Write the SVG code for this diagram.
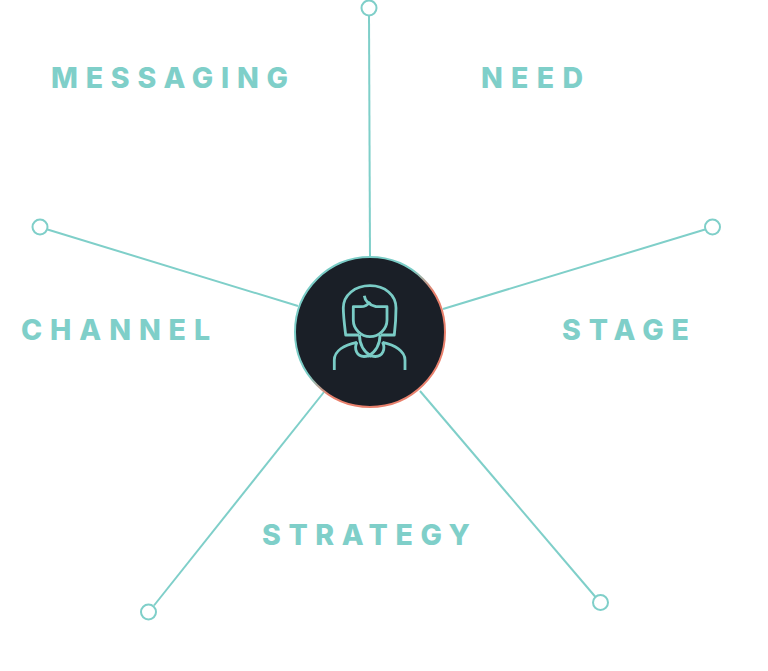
<svg xmlns="http://www.w3.org/2000/svg" width="768" height="671" viewBox="0 0 768 671">
<style>
.c{fill:none;stroke:#7fcfc9;stroke-width:2}
.e{fill:#fff;stroke:#7fcfc9;stroke-width:2}
.i{fill:none;stroke:#7accc6;stroke-width:2.800;stroke-linecap:butt;stroke-linejoin:round}
.t{font-family:"Inter","Liberation Sans",sans-serif;font-weight:800;font-size:28.500px;fill:#7fcfc9}
</style>
<defs>
<linearGradient id="g" x1="0.2" y1="0.2" x2="0.8" y2="0.8">
<stop offset="0.4" stop-color="#7accc6"/>
<stop offset="0.62" stop-color="#e8806c"/>
</linearGradient>
</defs>
<rect width="768" height="671" fill="#fff"/>
<g id="connectors">
<line class="c" x1="369" y1="16" x2="370" y2="258"/>
<line class="c" x1="47.500" y1="229.500" x2="298" y2="306"/>
<line class="c" x1="705" y1="229.500" x2="443" y2="309"/>
<line class="c" x1="154" y1="605.500" x2="324" y2="392"/>
<line class="c" x1="595.500" y1="597" x2="420" y2="391"/>
</g>
<g id="end-top"><circle class="e" cx="369" cy="8" r="7.500"/></g>
<g id="end-left"><circle class="e" cx="40" cy="227" r="7.500"/></g>
<g id="end-right"><circle class="e" cx="712.500" cy="227" r="7.500"/></g>
<g id="end-bottom-left"><circle class="e" cx="148.500" cy="612" r="7.500"/></g>
<g id="end-bottom-right"><circle class="e" cx="600.500" cy="602.500" r="7.500"/></g>
<g id="center">
<circle cx="370" cy="332" r="75" fill="#1a1f27" stroke="url(#g)" stroke-width="2"/>
<path class="i" d="M359 335L345.700 335C344.500 325 343.300 316 343.300 308C343.300 295 355 285.700 370 285.700C385 285.700 396 295 396 308C396 316 395.500 325 394.300 335L381 335"/>
<path class="i" d="M364.300 295.700C365 301 369 304.700 376 306.700L387 306.700L387 320C387 329 379 336.700 370 336.700C361 336.700 353.300 329 353.300 320L353.300 306.700L361 306.700C365 306.700 368 304.500 370 301.700"/>
<path class="i" d="M334.300 370L334.300 360C334.300 351 344 345 357 342.300M405 370L405 360C405 351 395 345 382.500 342.300"/>
<path class="i" d="M359.500 335C359.500 345 364 352 371.500 356.500M380 335C380 345 375.500 352 368 356.500"/>
<path class="i" d="M357 342C353.500 349 357 356.500 364 356.500C367 356.500 369 356 371 354M382.500 342C386 349 382.500 356.500 375.500 356.500C372.500 356.500 370.500 356 368.500 354"/>
</g>
<g id="labels">
<text class="t" x="51" y="88" textLength="237" lengthAdjust="spacing">MESSAGING</text>
<text class="t" x="481" y="88" textLength="102" lengthAdjust="spacing">NEED</text>
<text class="t" x="21" y="340" textLength="189" lengthAdjust="spacing">CHANNEL</text>
<text class="t" x="562" y="340" textLength="127" lengthAdjust="spacing">STAGE</text>
<text class="t" x="262" y="545" textLength="208" lengthAdjust="spacing">STRATEGY</text>
</g>
</svg>
